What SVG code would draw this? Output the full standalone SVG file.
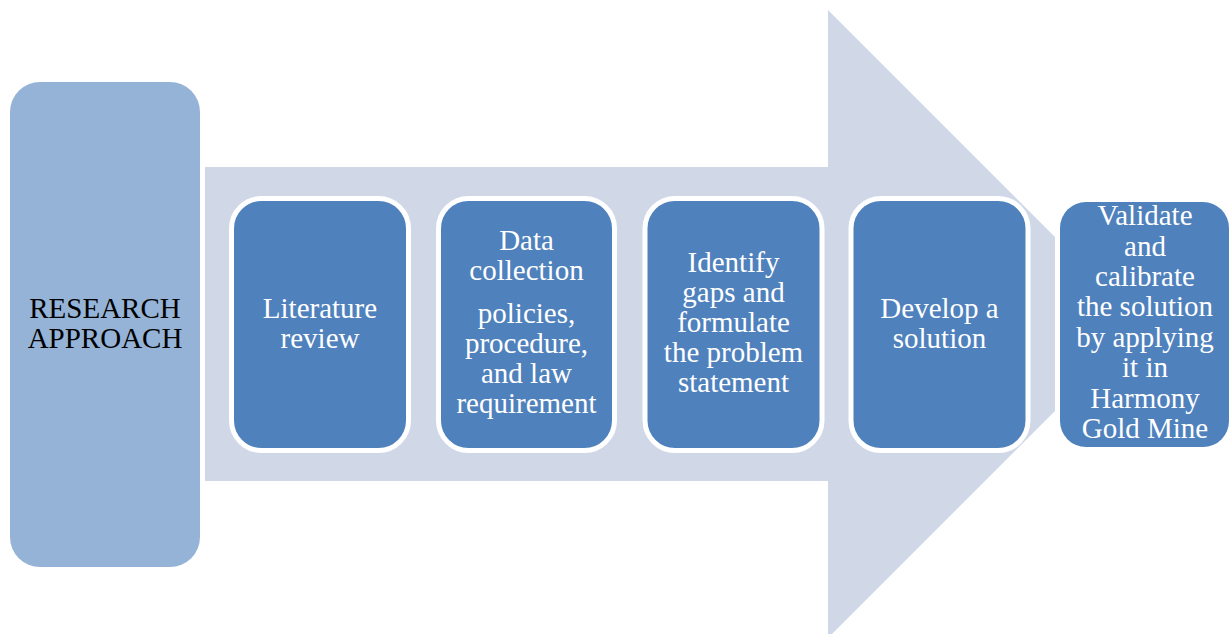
<svg xmlns="http://www.w3.org/2000/svg" width="1230" height="634" viewBox="0 0 1230 634">
  <style>
    .t { font-family: "Liberation Serif", "Times New Roman", serif; font-size: 29px; text-anchor: middle; }
    .w { fill: #ffffff; }
    .k { fill: #000000; }
    .step { fill: #4F81BD; stroke: #ffffff; stroke-width: 5; }
  </style>
  <rect width="1230" height="634" fill="#ffffff"/>

  <!-- Research approach label block -->
  <g id="research-approach">
    <rect x="10" y="82" width="190" height="485" rx="30" ry="30" fill="#95B3D7"/>
    <text class="t k" x="105" y="318">RESEARCH</text>
    <text class="t k" x="105" y="348">APPROACH</text>
  </g>

  <!-- Broad process arrow behind the steps -->
  <g id="connectors">
    <polygon points="205,167 828,167 828,10 1055,237 1055,411 828,638 828,481 205,481" fill="#D0D8E8"/>
  </g>

  <g id="literature-review">
    <rect class="step" x="231.5" y="198.5" width="177" height="252" rx="30" ry="30"/>
    <text class="t w" x="320" y="318">Literature</text>
    <text class="t w" x="320" y="348">review</text>
  </g>

  <g id="data-collection">
    <rect class="step" x="438.5" y="198.5" width="176" height="252" rx="30" ry="30"/>
    <text class="t w" x="526.5" y="250">Data</text>
    <text class="t w" x="526.5" y="280">collection</text>
    <text class="t w" x="526.5" y="323">policies,</text>
    <text class="t w" x="526.5" y="353">procedure,</text>
    <text class="t w" x="526.5" y="383">and law</text>
    <text class="t w" x="526.5" y="413">requirement</text>
  </g>

  <g id="identify-gaps">
    <rect class="step" x="645" y="198.5" width="177" height="252" rx="30" ry="30"/>
    <text class="t w" x="733.5" y="272">Identify</text>
    <text class="t w" x="733.5" y="302">gaps and</text>
    <text class="t w" x="733.5" y="332">formulate</text>
    <text class="t w" x="733.5" y="362">the problem</text>
    <text class="t w" x="733.5" y="392">statement</text>
  </g>

  <g id="develop-solution">
    <rect class="step" x="851" y="198.5" width="177" height="252" rx="30" ry="30"/>
    <text class="t w" x="939.5" y="318">Develop a</text>
    <text class="t w" x="939.5" y="348">solution</text>
  </g>

  <g id="validate-calibrate">
    <rect x="1060" y="202" width="169" height="245" rx="26" ry="26" fill="#4F81BD"/>
    <text class="t w" x="1145" y="225">Validate</text>
    <text class="t w" x="1145" y="255.5">and</text>
    <text class="t w" x="1145" y="286">calibrate</text>
    <text class="t w" x="1145" y="316">the solution</text>
    <text class="t w" x="1145" y="347">by applying</text>
    <text class="t w" x="1145" y="377">it in</text>
    <text class="t w" x="1145" y="408">Harmony</text>
    <text class="t w" x="1145" y="438">Gold Mine</text>
  </g>
</svg>
